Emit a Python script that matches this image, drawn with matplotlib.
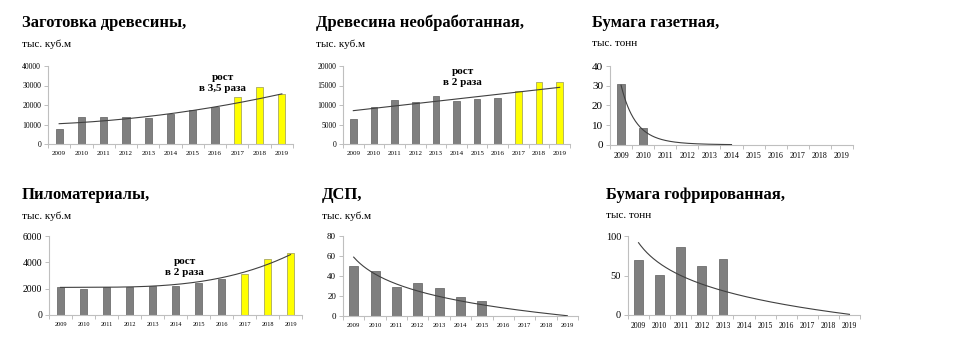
import numpy as np
import matplotlib
matplotlib.use('Agg')
import matplotlib.pyplot as plt

plt.rcParams['font.family'] = ['Liberation Serif', 'DejaVu Serif']

years = ['2009', '2010', '2011', '2012', '2013', '2014', '2015', '2016', '2017', '2018', '2019']

# bar values (forecast years are the yellow ones)
zagotovka = [7500, 13800, 14000, 13700, 13500, 15500, 17400, 19000, 24300, 29000, 25800]
drevesina = [6400, 9400, 11300, 10700, 12400, 10900, 11450, 11800, 13600, 15900, 16000]
gazetnaya = [31, 8.5]
pilomat = [2150, 1975, 2150, 2150, 2230, 2200, 2450, 2760, 3090, 4250, 4680]
dsp = [50.5, 44.8, 29, 32.8, 28.4, 18.7, 15]
gofra = [69.2, 50.6, 86.5, 62, 71.3]

# trend line readings: (year index, value)
trend_zag = ([0, 2, 4, 6, 8, 10], [10250, 12300, 14000, 16600, 21700, 25500])
trend_drev = ([0, 5, 10], [8550, 11540, 14530])
trend_gaz = ([0, 1, 2, 3], [31, 7.1, 2.5, 0.85])
trend_pilo = ([0, 2, 4, 6, 8, 9, 10], [2100, 2100, 2200, 2530, 3270, 3820, 4600])
trend_dsp = ([0, 1, 3, 5, 7, 10], [58.5, 42.5, 25.8, 14, 7.4, 1.0])
trend_gof = ([0, 2, 4, 7, 10], [91.6, 50.6, 29.5, 12.7, 1.5])

GREY = '#7f7f7f'
YELLOW = '#ffff00'
AXC = '#bfbfbf'
W, H = 971, 351

fig = plt.figure(figsize=(W / 100, H / 100), dpi=100)


def make_ax(x0, x1, ytop, y0):
    return fig.add_axes([x0 / W, 1 - y0 / H, (x1 - x0) / W, (y0 - ytop) / H])


def trend_curve(ax, pts, kind, xmax, deg=1):
    x = np.array(pts[0], float)
    y = np.array(pts[1], float)
    xs = np.linspace(0, xmax, 200)
    if kind == 'poly':
        c = np.polyfit(x, y, deg)
        ys = np.polyval(c, xs)
    elif kind == 'log':
        c = np.polyfit(np.log(x + 1), y, 1)
        ys = np.polyval(c, np.log(xs + 1))
    elif kind == 'exp':
        c = np.polyfit(x, np.log(y), deg)
        ys = np.exp(np.polyval(c, xs))
    ax.plot(xs, ys, color='#404040', lw=0.8, zorder=3)


def panel(ax, vals, ymax, ystep, ytick_fs, xtick_fs, width, nfact=8):
    n = len(vals)
    colors = [GREY if i < nfact else YELLOW for i in range(n)]
    edges = ['#6f6f6f' if i < nfact else '#a8a860' for i in range(n)]
    ax.bar(range(n), vals, width=width, color=colors, edgecolor=edges, lw=0.6, zorder=2)
    ax.set_xlim(-0.5, 10.5)
    ax.set_ylim(0, ymax)
    ax.set_yticks(np.arange(0, ymax + 1, ystep))
    ax.set_xticks(range(11))
    ax.set_xticklabels(years)
    ax.set_xticks(np.arange(-0.5, 11, 1), minor=True)
    ax.tick_params(axis='x', which='major', length=0, labelsize=xtick_fs, pad=5)
    ax.tick_params(axis='x', which='minor', length=3, color=AXC, width=0.7)
    ax.tick_params(axis='y', length=3, color=AXC, width=0.7, labelsize=ytick_fs, pad=2)
    for s in ['top', 'right']:
        ax.spines[s].set_visible(False)
    for s in ['left', 'bottom']:
        ax.spines[s].set_color(AXC)
        ax.spines[s].set_linewidth(0.8)
    ax.patch.set_alpha(0)


def titles(x, y, title, unit):
    fig.text(x / W, 1 - y / H, title, fontsize=12, fontweight='bold', va='center', ha='left')
    fig.text(x / W, 1 - (y + 21) / H, unit, fontsize=8, va='center', ha='left')


ax1 = make_ax(48, 293, 66, 144)
panel(ax1, zagotovka, 40000, 10000, 5.5, 5, 0.32)
trend_curve(ax1, trend_zag, 'poly', 10, deg=2)
ax1.text(7.35, 31300, 'рост\nв 3,5 раза', ha='center', va='center', fontsize=8,
         fontweight='bold', linespacing=1.3, zorder=4)

ax2 = make_ax(343, 570, 66, 144)
panel(ax2, drevesina, 20000, 5000, 5.5, 5, 0.32)
trend_curve(ax2, trend_drev, 'poly', 10, deg=1)
ax2.text(5.3, 17200, 'рост\nв 2 раза', ha='center', va='center', fontsize=8,
         fontweight='bold', linespacing=1.3, zorder=4)

ax3 = make_ax(610, 853, 66, 145)
panel(ax3, gazetnaya, 40, 10, 8, 5.8, 0.38)
trend_curve(ax3, trend_gaz, 'exp', 5, deg=2)

ax4 = make_ax(49, 302, 236, 315)
panel(ax4, pilomat, 6000, 2000, 7, 4.5, 0.3)
trend_curve(ax4, trend_pilo, 'poly', 10, deg=3)
ax4.text(5.4, 3650, 'рост\nв 2 раза', ha='center', va='center', fontsize=8,
         fontweight='bold', linespacing=1.3, zorder=4)

ax5 = make_ax(343, 578, 236, 316)
panel(ax5, dsp, 80, 20, 6.5, 4.8, 0.42)
trend_curve(ax5, trend_dsp, 'log', 10)

ax6 = make_ax(628, 860, 236, 315)
panel(ax6, gofra, 100, 50, 7.5, 5.5, 0.41)
trend_curve(ax6, trend_gof, 'log', 10)

titles(22, 23, 'Заготовка древесины,', 'тыс. куб.м')
titles(316, 23, 'Древесина необработанная,', 'тыс. куб.м')
titles(592, 23, 'Бумага газетная,', 'тыс. тонн')
titles(22, 195, 'Пиломатериалы,', 'тыс. куб.м')
titles(322, 195, 'ДСП,', 'тыс. куб.м')
titles(606, 195, 'Бумага гофрированная,', 'тыс. тонн')

fig.savefig('out.png', dpi=100)
